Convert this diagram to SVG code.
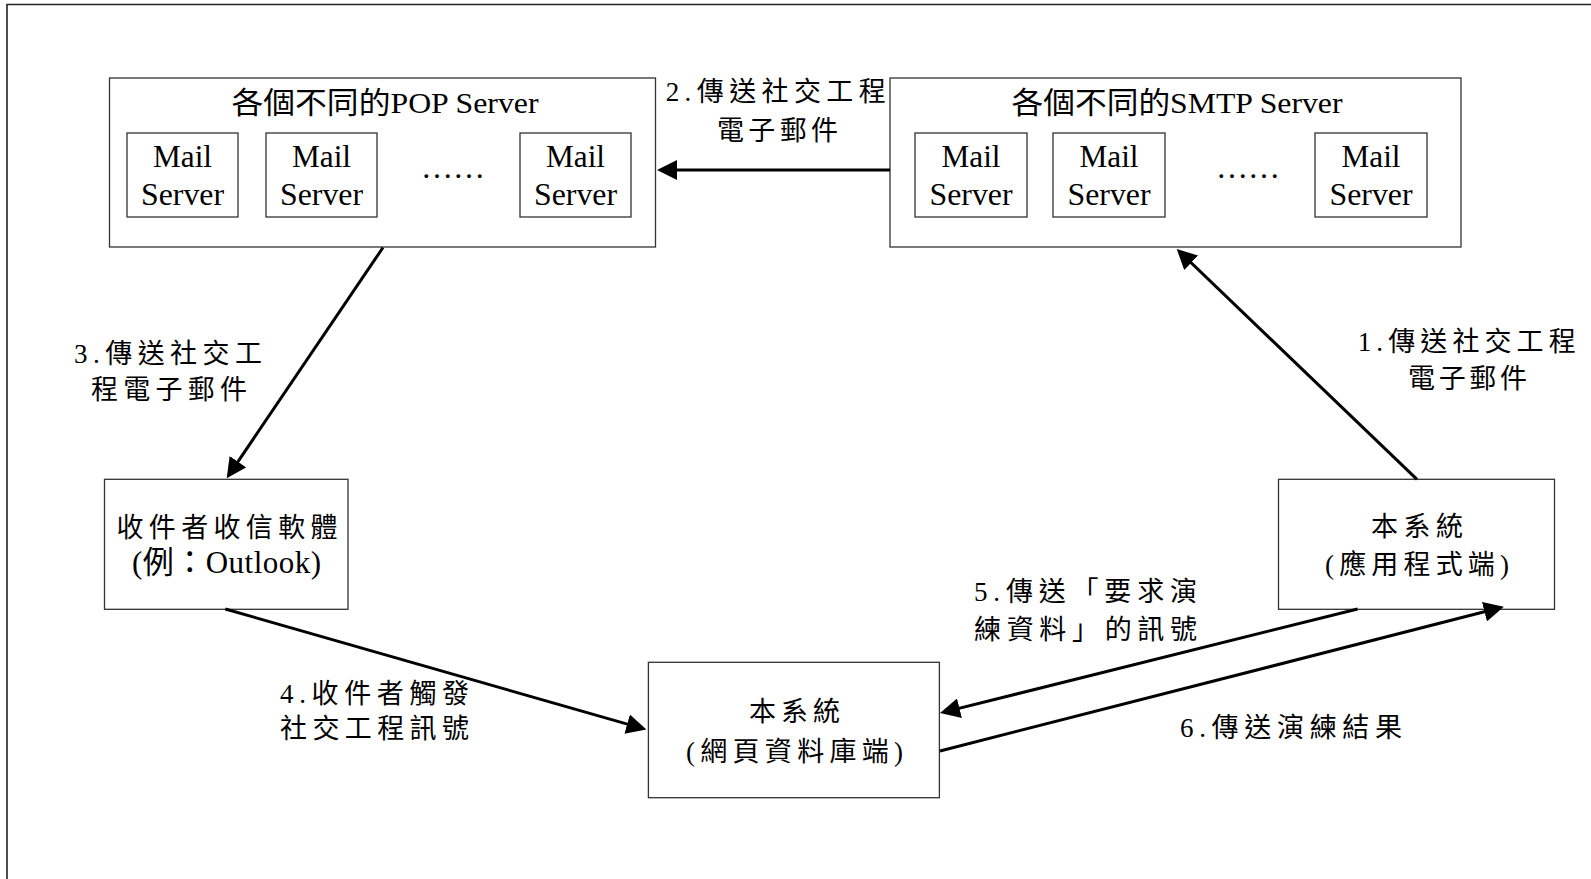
<svg xmlns="http://www.w3.org/2000/svg" width="1591" height="879" viewBox="0 0 1591 879">
<style>
.frame{fill:none;stroke:#222;stroke-width:1.6}
.box{fill:#fff;stroke:#333;stroke-width:1.3}
.t{font-family:"Liberation Serif","Noto Sans CJK TC",serif;fill:#000;text-anchor:middle}
.cjk{font-size:27px}
.lat{font-size:32px}
.ttl{font-size:30px}
.edge{fill:none;stroke:#000;stroke-width:3}
</style>
<defs>
<marker id="ah" markerUnits="userSpaceOnUse" viewBox="0 0 20 20" refX="12" refY="10" markerWidth="20" markerHeight="20" orient="auto">
<path d="M0,0 L20,10 L0,20 z" fill="#000"/>
</marker>
</defs>
<rect width="1591" height="879" fill="#fff"/>
<path class="frame" d="M7,879 L7,4.5 L1591,4.5"/>

<g id="pop">
<rect class="box" x="109.5" y="78" width="546" height="169"/>
<text class="t ttl" x="385" y="113" textLength="307" lengthAdjust="spacingAndGlyphs">各個不同的POP Server</text>
<rect class="box" x="127" y="133" width="111" height="84"/>
<text class="t lat" x="182.5" y="167" textLength="59" lengthAdjust="spacingAndGlyphs">Mail</text>
<text class="t lat" x="182.5" y="205" textLength="83" lengthAdjust="spacingAndGlyphs">Server</text>
<rect class="box" x="266" y="133" width="111" height="84"/>
<text class="t lat" x="321.5" y="167" textLength="59" lengthAdjust="spacingAndGlyphs">Mail</text>
<text class="t lat" x="321.5" y="205" textLength="83" lengthAdjust="spacingAndGlyphs">Server</text>
<text class="t lat" x="453" y="178">……</text>
<rect class="box" x="520" y="133" width="111" height="84"/>
<text class="t lat" x="575.5" y="167" textLength="59" lengthAdjust="spacingAndGlyphs">Mail</text>
<text class="t lat" x="575.5" y="205" textLength="83" lengthAdjust="spacingAndGlyphs">Server</text>
</g>

<g id="smtp">
<rect class="box" x="890" y="78" width="571" height="169"/>
<text class="t ttl" x="1177" y="113" textLength="331" lengthAdjust="spacingAndGlyphs">各個不同的SMTP Server</text>
<rect class="box" x="915" y="133" width="112" height="84"/>
<text class="t lat" x="971" y="167" textLength="59" lengthAdjust="spacingAndGlyphs">Mail</text>
<text class="t lat" x="971" y="205" textLength="83" lengthAdjust="spacingAndGlyphs">Server</text>
<rect class="box" x="1053" y="133" width="112" height="84"/>
<text class="t lat" x="1109" y="167" textLength="59" lengthAdjust="spacingAndGlyphs">Mail</text>
<text class="t lat" x="1109" y="205" textLength="83" lengthAdjust="spacingAndGlyphs">Server</text>
<text class="t lat" x="1248" y="178">……</text>
<rect class="box" x="1315" y="133" width="112" height="84"/>
<text class="t lat" x="1371" y="167" textLength="59" lengthAdjust="spacingAndGlyphs">Mail</text>
<text class="t lat" x="1371" y="205" textLength="83" lengthAdjust="spacingAndGlyphs">Server</text>
</g>

<g id="client">
<rect class="box" x="104.5" y="479.3" width="243.5" height="130"/>
<text class="t cjk" x="227" y="537" textLength="221">收件者收信軟體</text>
<text class="t" style="font-size:31px" x="226.5" y="573" textLength="189">(例：Outlook)</text>
</g>

<g id="app">
<rect class="box" x="1278.5" y="479.3" width="276" height="130"/>
<text class="t cjk" x="1417" y="536" textLength="92">本系統</text>
<text class="t cjk" x="1417" y="574" textLength="184">(應用程式端)</text>
</g>

<g id="web">
<rect class="box" x="648.4" y="662.3" width="291" height="135.4"/>
<text class="t cjk" x="794.5" y="721" textLength="91">本系統</text>
<text class="t cjk" x="794.5" y="761" textLength="217">(網頁資料庫端)</text>
</g>

<g id="connectors">
<line class="edge" x1="890" y1="170" x2="665" y2="170" marker-end="url(#ah)"/>
<line class="edge" x1="383" y1="247.5" x2="231.2" y2="471.6" marker-end="url(#ah)"/>
<line class="edge" x1="1417" y1="479.3" x2="1182.5" y2="254.5" marker-end="url(#ah)"/>
<line class="edge" x1="225.3" y1="609" x2="638.7" y2="727.4" marker-end="url(#ah)"/>
<line class="edge" x1="1357.6" y1="609" x2="947.8" y2="711.1" marker-end="url(#ah)"/>
<line class="edge" x1="940" y1="751" x2="1496.1" y2="608.8" marker-end="url(#ah)"/>
</g>

<g id="labels">
<text class="t cjk" x="775.7" y="101" textLength="220">2.傳送社交工程</text>
<text class="t cjk" x="777.5" y="140" textLength="121">電子郵件</text>
<text class="t cjk" x="168" y="363" textLength="188">3.傳送社交工</text>
<text class="t cjk" x="169" y="399" textLength="156">程電子郵件</text>
<text class="t cjk" x="1466.7" y="351" textLength="218">1.傳送社交工程</text>
<text class="t cjk" x="1467.5" y="388" textLength="119">電子郵件</text>
<text class="t cjk" x="374.5" y="703" textLength="189">4.收件者觸發</text>
<text class="t cjk" x="374.5" y="738" textLength="189">社交工程訊號</text>
<text class="t cjk" x="1085.5" y="601" textLength="223">5.傳送「要求演</text>
<text class="t cjk" x="1085.5" y="639" textLength="223">練資料」的訊號</text>
<text class="t cjk" x="1291" y="737" textLength="222">6.傳送演練結果</text>
</g>
</svg>
